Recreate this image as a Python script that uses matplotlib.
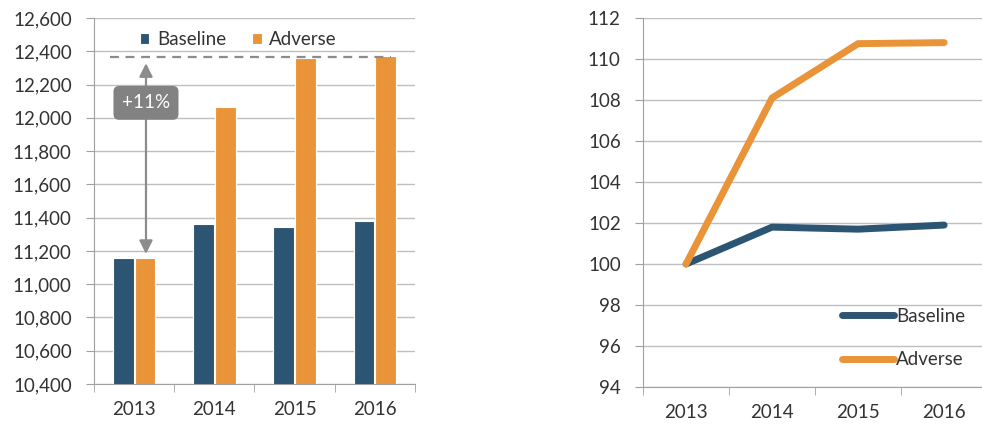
import matplotlib.pyplot as plt
import numpy as np

plt.rcParams['font.family'] = ['Lato', 'DejaVu Sans']

years = ['2013', '2014', '2015', '2016']
baseline_lvl = [11160, 11360, 11345, 11380]
adverse_lvl = [11160, 12065, 12360, 12370]
baseline_idx = [100, 101.8, 101.7, 101.9]
adverse_idx = [100, 108.1, 110.75, 110.8]
peak = 12365
pct_label = '+11%'

navy = '#2C5573'
orange = '#EA9439'
grid_c = '#BFBFBF'
text_c = '#333333'
fs = 13.5

fig = plt.figure(figsize=(9.82, 4.26), dpi=100)
ax1 = fig.add_axes([0.0957, 0.0986, 0.3269, 0.8591])
ax2 = fig.add_axes([0.6548, 0.0915, 0.3452, 0.8662])

x = np.arange(len(years))

# left: levels
ax1.bar(x - 0.135, baseline_lvl, width=0.26, color=navy, edgecolor='white', linewidth=0.8, label='Baseline', zorder=3)
ax1.bar(x + 0.135, adverse_lvl, width=0.26, color=orange, edgecolor='white', linewidth=0.8, label='Adverse', zorder=3)
ax1.set_ylim(10400, 12600)
ax1.set_yticks(np.arange(10400, 12601, 200))
ax1.set_yticklabels(['{:,}'.format(v) for v in range(10400, 12601, 200)])
ax1.set_xlim(-0.5, 3.5)
ax1.set_xticks(x)
ax1.set_xticklabels(years)
ax1.set_xticks(np.arange(-0.5, 3.6, 1), minor=True)
ax1.tick_params(axis='x', which='major', length=0, pad=12)
ax1.tick_params(axis='x', which='minor', length=6, color='#A0A0A0')
ax1.tick_params(axis='y', length=6, color='#A0A0A0', pad=10)
ax1.grid(axis='y', color=grid_c, linewidth=1, zorder=0)

ax1.plot([-0.3, 3.2], [peak, peak], linestyle=(0, (4, 3)), color='#8C8C8C', linewidth=1.6, zorder=4)
ax1.annotate('', xy=(0.148, peak - 20), xytext=(0.148, adverse_lvl[0] + 5),
             arrowprops=dict(arrowstyle='<|-|>', color='#8C8C8C', lw=1.6, mutation_scale=20), zorder=5)
ax1.text(0.148, 12090, pct_label, ha='center', va='center', color='white', fontsize=fs, zorder=6,
         bbox=dict(boxstyle='round,pad=0.45,rounding_size=0.3', facecolor='#828282', edgecolor='none'))
ax1.legend(loc='upper center', bbox_to_anchor=(0.45, 1.01), ncol=2, frameon=False, fontsize=fs,
           handlelength=0.5, handleheight=0.5, handletextpad=0.4, columnspacing=1.4, labelcolor=text_c)

# right: index
ax2.plot(x, baseline_idx, color=navy, linewidth=5, solid_capstyle='round', label='Baseline', zorder=3)
ax2.plot(x, adverse_idx, color=orange, linewidth=5, solid_capstyle='round', label='Adverse', zorder=3)
ax2.set_ylim(94, 112)
ax2.set_yticks(np.arange(94, 113, 2))
ax2.set_xlim(-0.5, 3.44)
ax2.set_xticks(x)
ax2.set_xticklabels(years)
ax2.set_xticks(np.arange(-0.5, 3.0, 1), minor=True)
ax2.tick_params(axis='x', which='major', length=0, pad=12)
ax2.tick_params(axis='x', which='minor', length=6, color='#A0A0A0')
ax2.tick_params(axis='y', length=6, color='#A0A0A0', pad=10)
ax2.grid(axis='y', color=grid_c, linewidth=1, zorder=0)
ax2.legend(loc='lower right', bbox_to_anchor=(1.0, 0.005), frameon=False, fontsize=fs,
           handlelength=2.8, handletextpad=0.1, labelspacing=1.4, labelcolor=text_c)

for ax in (ax1, ax2):
    for s in ('top', 'right'):
        ax.spines[s].set_visible(False)
    for s in ('left', 'bottom'):
        ax.spines[s].set_color('#A0A0A0')
    ax.tick_params(labelsize=fs, labelcolor=text_c)

fig.savefig('out.png', dpi=100)
